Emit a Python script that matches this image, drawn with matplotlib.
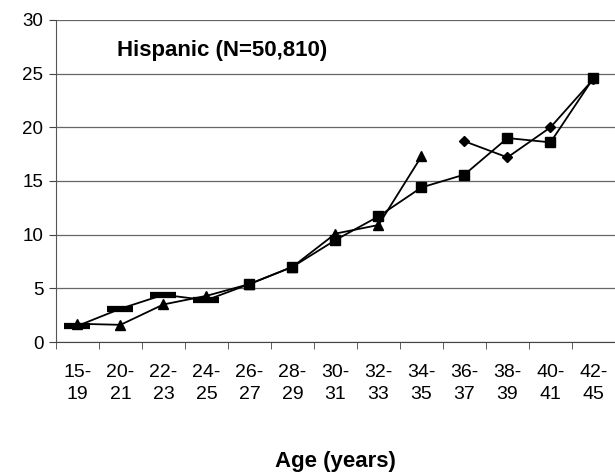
import matplotlib.pyplot as plt
import numpy as np

plt.rcParams["font.family"] = ["Liberation Sans", "DejaVu Sans"]

ages = ["15-\n19", "20-\n21", "22-\n23", "24-\n25", "26-\n27", "28-\n29", "30-\n31",
        "32-\n33", "34-\n35", "36-\n37", "38-\n39", "40-\n41", "42-\n45"]

# square series (first four points drawn as flat dashes in the original)
sq_vals = [1.5, 3.1, 4.4, 3.9, 5.4, 7.0, 9.5, 11.7, 14.4, 15.6, 19.0, 18.6, 24.6]
# triangle series, 15-19 .. 34-35
tri_vals = [1.7, 1.6, 3.5, 4.3, 5.4, 7.0, 10.1, 10.9, 17.3]
# diamond series, 36-37 .. 42-45
dia_vals = [18.7, 17.2, 20.0, 24.5]

x = np.arange(len(ages))

fig = plt.figure(figsize=(6.15, 4.76), dpi=100)
ax = fig.add_axes([0.091, 0.2815, 0.909, 0.6765])

ax.plot(x, sq_vals, color="black", lw=1.3, zorder=3)
ax.plot(x[:4], sq_vals[:4], ls="none", marker="_", ms=19, mew=4.5, color="black", zorder=4)
ax.plot(x[4:], sq_vals[4:], ls="none", marker="s", ms=6.5, color="black", zorder=4)

ax.plot(x[:len(tri_vals)], tri_vals, color="black", lw=1.3, marker="^", ms=7, zorder=3)
ax.plot(x[-len(dia_vals):], dia_vals, color="black", lw=1.3, marker="D", ms=5.5, zorder=3)

ax.set_xlim(-0.5, 12.5)
ax.set_ylim(0, 30)
ax.set_yticks(range(0, 31, 5))
ax.yaxis.grid(True, color="#666666", lw=0.9)
ax.set_axisbelow(True)

ax.set_xticks(x)
ax.set_xticklabels(ages, fontsize=14, linespacing=1.38)
ax.set_xticks(np.arange(-0.5, 12.6, 1), minor=True)
ax.tick_params(axis="x", which="major", length=0, pad=16)
ax.tick_params(axis="x", which="minor", length=5, direction="out", color="#444444")
ax.tick_params(axis="y", length=5, color="#444444", labelsize=13.5, pad=4)

for s in ["top", "right"]:
    ax.spines[s].set_visible(False)
ax.spines["left"].set_color("#555555")
ax.spines["bottom"].set_color("#444444")

ax.text(0.92, 27.15, "Hispanic (N=50,810)", fontsize=16, fontweight="bold", va="center")
ax.set_xlabel("Age (years)", fontsize=16, fontweight="bold")
ax.xaxis.set_label_coords(0.5, -0.34)

fig.savefig("out.png", dpi=100)
